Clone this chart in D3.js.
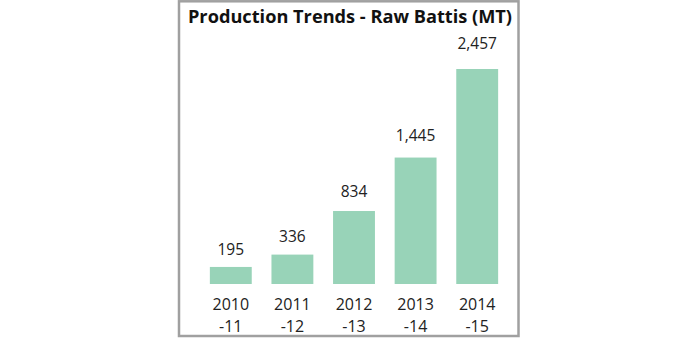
<!DOCTYPE html>
<html><head><meta charset="utf-8">
<script src="https://cdn.jsdelivr.net/npm/d3@7"></script>
<style>body{margin:0;background:#fff;} svg{display:block;}</style>
</head><body>
<svg id="c" width="700" height="338"></svg>
<script>
const categories = ["2010-11","2011-12","2012-13","2013-14","2014-15"];
const values = [195, 336, 834, 1445, 2457];
const title = "Production Trends - Raw Battis (MT)";

const svg = d3.select("#c");
const font = "'Open Sans', sans-serif";

svg.append("rect").attr("x",179).attr("y",1.3).attr("width",339.5).attr("height",334.7)
  .attr("fill","#fff").attr("stroke","#a0a0a0").attr("stroke-width",2.5);

svg.append("text").attr("x",350).attr("y",22.5).attr("text-anchor","middle")
  .attr("font-family",font).attr("font-weight","bold").attr("font-size",18.2)
  .attr("fill","#111").text(title);

const x = d3.scaleBand().domain(categories).range([200,508]).paddingInner(0.32).paddingOuter(0.16);
const y = d3.scaleLinear().domain([0,2457]).range([284,69]);
// label gap above bar grows with bar height in the reference
const gap = d3.scaleLinear().domain([0,2457]).range([11,20]);

svg.selectAll("rect.bar").data(values).join("rect").attr("class","bar")
  .attr("x",(d,i)=>x(categories[i])).attr("width",x.bandwidth())
  .attr("y",d=>y(d)).attr("height",d=>y(0)-y(d)).attr("fill","#98d3b8");

svg.selectAll("text.val").data(values).join("text").attr("class","val")
  .attr("x",(d,i)=>x(categories[i])+x.bandwidth()/2).attr("y",d=>y(d)-gap(d))
  .attr("text-anchor","middle").attr("font-family",font).attr("font-size",15.5)
  .attr("fill","#222").text(d=>d3.format(",")(d));

const lines = [];
categories.forEach(c=>{
  const parts = c.split("-");
  lines.push({c, t: parts[0], row: 0});
  lines.push({c, t: "-"+parts[1], row: 1});
});
svg.selectAll("text.cat").data(lines).join("text").attr("class","cat")
  .attr("x",d=>x(d.c)+x.bandwidth()/2).attr("y",d=>d.row===0?309.5:331.5)
  .attr("text-anchor","middle").attr("font-family",font).attr("font-size",16).attr("fill","#222")
  .text(d=>d.t);
</script>
</body></html>
